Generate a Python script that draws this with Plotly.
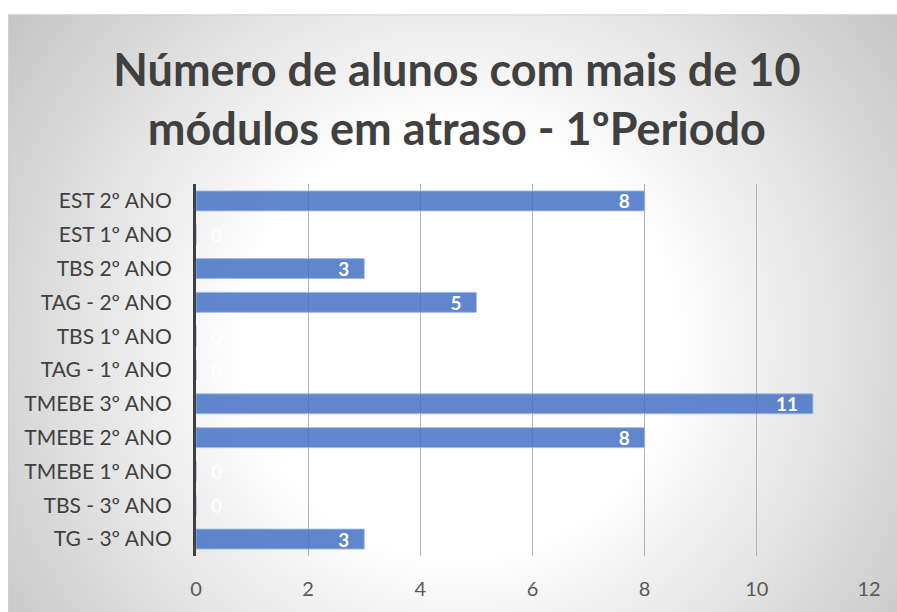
import base64
import plotly.graph_objects as go

categories = ["EST 2º ANO", "EST 1º ANO", "TBS 2º ANO", "TAG - 2º ANO", "TBS 1º ANO",
              "TAG - 1º ANO", "TMEBE 3º ANO", "TMEBE 2º ANO", "TMEBE 1º ANO",
              "TBS - 3º ANO", "TG - 3º ANO"]
values = [8, 0, 3, 5, 0, 0, 11, 8, 0, 0, 3]
x_ticks = [0, 2, 4, 6, 8, 10, 12]
title_text = "Número de alunos com mais de 10<br>módulos em atraso - 1ºPeriodo"

texts = [("\u2002\u2009" + str(v)) if v == 0 else (str(v) + "\u2002\u2009") for v in values]
positions = ["outside" if v == 0 else "inside" for v in values]

W, H = 897, 612
L, R, T, B = 196, 28, 184, 53
pw, ph = W - L - R, H - T - B

BW, BH = 897, 607  # background box, extends past the figure edges
svg = (
    f"<svg xmlns='http://www.w3.org/2000/svg' width='{BW}' height='{BH}' viewBox='0 0 {BW} {BH}' "
    "preserveAspectRatio='none'><defs><radialGradient id='g' cx='450' cy='330' r='560' "
    "gradientUnits='userSpaceOnUse'><stop offset='0' stop-color='#ffffff'/>"
    "<stop offset='0.38' stop-color='#ffffff'/><stop offset='1' stop-color='#c4c4c4'/>"
    f"</radialGradient></defs><rect width='{BW}' height='{BH}' fill='url(#g)'/>"
    f"<path d='M0.5 {BH} V0.5 H{BW}' fill='none' stroke='#cfcfcf'/></svg>"
)
uri = "data:image/svg+xml;base64," + base64.b64encode(svg.encode()).decode()

fig = go.Figure(go.Bar(
    x=values, y=categories, orientation="h",
    marker=dict(color="rgba(68,114,196,0.85)", line=dict(color="rgba(160,185,228,0.9)", width=1)),
    text=texts, textposition=positions, insidetextanchor="end",
    textangle=0, constraintext="none",
    textfont=dict(family="Lato", size=19, color="white", weight="bold"),
    outsidetextfont=dict(family="Lato", size=19, color="rgba(255,255,255,0.9)", weight="bold"),
    cliponaxis=False, hoverinfo="skip",
))

fig.update_layout(
    width=W, height=H,
    margin=dict(l=L, r=R, t=T, b=B, pad=0),
    paper_bgcolor="white", plot_bgcolor="rgba(0,0,0,0)",
    bargap=0.41, showlegend=False,
    title=dict(text=title_text, x=(118 + 803) / 2 / W - 0.004, xanchor="center",
               y=1 - 86 / H, yanchor="middle",
               font=dict(family="Lato", size=45, color="#404040", weight="bold")),
    images=[dict(source=uri, xref="paper", yref="paper",
                 x=(8 - L) / pw, y=(H - B - 13) / ph,
                 sizex=BW / pw, sizey=BH / ph,
                 xanchor="left", yanchor="top", sizing="stretch", layer="below")],
    xaxis=dict(range=[0, 12], tickvals=x_ticks, showgrid=True, gridcolor="#b3b3b3",
               gridwidth=1, zeroline=False, showline=False,
               tickfont=dict(family="Lato", size=20, color="#595959"),
               ticklabelstandoff=19, fixedrange=True),
    yaxis=dict(autorange="reversed", showline=True, linecolor="#404040", linewidth=3,
               showgrid=False, tickfont=dict(family="Lato", size=21, color="#404040"),
               ticklabelstandoff=17, fixedrange=True),
)

fig.write_html(
    "out.html",
    config={"displayModeBar": False},
    post_script="document.body.style.margin='0';document.body.style.overflow='hidden';",
)
